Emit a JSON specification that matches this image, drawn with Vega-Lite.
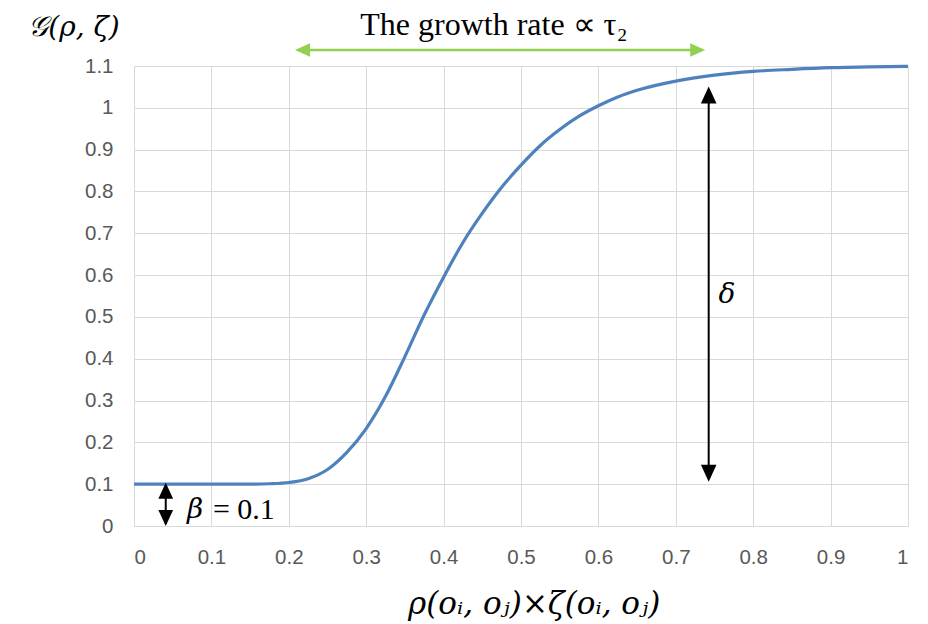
{
  "$schema": "https://vega.github.io/schema/vega-lite/v6.json",
  "width": 774,
  "height": 460,
  "autosize": {"type": "none"},
  "padding": {"left": 134, "top": 66, "right": 20, "bottom": 98},
  "background": "white",
  "config": {"view": {"stroke": null}},
  "datasets": {
    "curve": [
      {"x": 0, "y": 0.1}, {"x": 0.05, "y": 0.1}, {"x": 0.1, "y": 0.1}, {"x": 0.15, "y": 0.1},
      {"x": 0.175, "y": 0.101}, {"x": 0.2, "y": 0.104}, {"x": 0.225, "y": 0.113},
      {"x": 0.25, "y": 0.135}, {"x": 0.275, "y": 0.176}, {"x": 0.3, "y": 0.233},
      {"x": 0.325, "y": 0.31}, {"x": 0.35, "y": 0.405}, {"x": 0.375, "y": 0.505},
      {"x": 0.4, "y": 0.595}, {"x": 0.425, "y": 0.678}, {"x": 0.45, "y": 0.748},
      {"x": 0.475, "y": 0.81}, {"x": 0.5, "y": 0.863}, {"x": 0.525, "y": 0.91},
      {"x": 0.55, "y": 0.948}, {"x": 0.575, "y": 0.98}, {"x": 0.6, "y": 1.005},
      {"x": 0.625, "y": 1.026}, {"x": 0.65, "y": 1.042}, {"x": 0.7, "y": 1.064},
      {"x": 0.75, "y": 1.078}, {"x": 0.8, "y": 1.087}, {"x": 0.85, "y": 1.092},
      {"x": 0.9, "y": 1.096}, {"x": 0.95, "y": 1.098}, {"x": 1, "y": 1.099}
    ],
    "vrules": [
      {"arrow": "delta", "x": 0.7425, "y": 0.115, "y2": 1.04},
      {"arrow": "beta", "x": 0.041, "y": 0.005, "y2": 0.098}
    ],
    "hrules": [
      {"arrow": "rate", "x": 0.215, "x2": 0.73, "y": 1.138}
    ],
    "heads": [
      {"arrow": "delta", "dir": "up", "x": 0.7425, "y": 1.051},
      {"arrow": "delta", "dir": "down", "x": 0.7425, "y": 0.106},
      {"arrow": "beta", "dir": "up", "x": 0.041, "y": 0.1036},
      {"arrow": "beta", "dir": "down", "x": 0.041, "y": 0.0},
      {"arrow": "rate", "dir": "left", "x": 0.208, "y": 1.138},
      {"arrow": "rate", "dir": "right", "x": 0.738, "y": 1.138}
    ],
    "italicLabels": [
      {"label": "δ", "x": 0.766, "y": 0.553},
      {"label": "𝒢(ρ, ζ)", "x": -0.0775, "y": 1.191}
    ],
    "axisTitle": [
      {"label": "ρ(oᵢ, oⱼ)×ζ(oᵢ, oⱼ)", "x": 0.517, "y": -0.189}
    ],
    "betaLabel": [
      {"label": "β", "x": 0.0685, "y": 0.038}
    ],
    "eqLabel": [
      {"label": "=  0.1", "x": 0.102, "y": 0.038}
    ],
    "titleLabel": [
      {"label": "The growth rate ∝ τ₂", "x": 0.465, "y": 1.198}
    ]
  },
  "encoding": {
    "x": {
      "field": "x",
      "type": "quantitative",
      "scale": {"domain": [0, 1], "nice": false, "zero": false},
      "axis": {
        "values": [0, 0.1, 0.2, 0.3, 0.4, 0.5, 0.6, 0.7, 0.8, 0.9, 1],
        "format": "~g",
        "title": null,
        "grid": true,
        "gridColor": "#D9D9D9",
        "gridWidth": 1,
        "domain": false,
        "ticks": false,
        "labelFont": "Liberation Sans",
        "labelFontSize": 20.5,
        "labelColor": "#595959",
        "labelPadding": 21
      }
    },
    "y": {
      "field": "y",
      "type": "quantitative",
      "scale": {"domain": [0, 1.1], "nice": false, "zero": false},
      "axis": {
        "values": [0, 0.1, 0.2, 0.3, 0.4, 0.5, 0.6, 0.7, 0.8, 0.9, 1, 1.1],
        "format": "~g",
        "title": null,
        "grid": true,
        "gridColor": "#D9D9D9",
        "gridWidth": 1,
        "domain": false,
        "ticks": false,
        "labelFont": "Liberation Sans",
        "labelFontSize": 20.5,
        "labelColor": "#595959",
        "labelPadding": 21
      }
    }
  },
  "layer": [
    {
      "data": {"name": "curve"},
      "mark": {"type": "line", "color": "#4F81BD", "strokeWidth": 3.2, "interpolate": "monotone", "clip": false}
    },
    {
      "data": {"name": "vrules"},
      "mark": {"type": "rule", "color": "black", "strokeWidth": 2},
      "encoding": {"y2": {"field": "y2"}}
    },
    {
      "data": {"name": "hrules"},
      "mark": {"type": "rule", "color": "#92D050", "strokeWidth": 2.5},
      "encoding": {"x2": {"field": "x2"}}
    },
    {
      "data": {"name": "heads"},
      "mark": {"type": "point", "filled": true, "opacity": 1, "strokeWidth": 0},
      "encoding": {
        "shape": {
          "field": "dir",
          "type": "nominal",
          "scale": {
            "domain": ["up", "down", "left", "right"],
            "range": ["M0,0L0.92,2L-0.92,2Z", "M0,0L0.92,-2L-0.92,-2Z", "M0,0L2,-0.9L2,0.9Z", "M0,0L-2,-0.9L-2,0.9Z"]
          },
          "legend": null
        },
        "color": {
          "field": "arrow",
          "type": "nominal",
          "scale": {"domain": ["delta", "beta", "rate"], "range": ["#000000", "#000000", "#92D050"]},
          "legend": null
        },
        "size": {
          "field": "arrow",
          "type": "ordinal",
          "scale": {"domain": ["delta", "beta", "rate"], "range": [289, 225, 289]},
          "legend": null
        }
      }
    },
    {
      "data": {"name": "italicLabels"},
      "mark": {"type": "text", "font": "DejaVu Serif", "fontStyle": "italic", "fontSize": 28, "color": "black", "baseline": "middle", "align": "center"},
      "encoding": {"text": {"field": "label"}}
    },
    {
      "data": {"name": "axisTitle"},
      "mark": {"type": "text", "font": "DejaVu Serif", "fontStyle": "italic", "fontSize": 31, "color": "black", "baseline": "middle", "align": "center"},
      "encoding": {"text": {"field": "label"}}
    },
    {
      "data": {"name": "betaLabel"},
      "mark": {"type": "text", "font": "DejaVu Serif", "fontStyle": "italic", "fontSize": 28, "color": "black", "baseline": "middle", "align": "left"},
      "encoding": {"text": {"field": "label"}}
    },
    {
      "data": {"name": "eqLabel"},
      "mark": {"type": "text", "font": "Liberation Serif", "fontSize": 30, "color": "black", "baseline": "middle", "align": "left"},
      "encoding": {"text": {"field": "label"}}
    },
    {
      "data": {"name": "titleLabel"},
      "mark": {"type": "text", "font": "Liberation Serif", "fontSize": 32, "color": "black", "baseline": "middle", "align": "center"},
      "encoding": {"text": {"field": "label"}}
    }
  ]
}
